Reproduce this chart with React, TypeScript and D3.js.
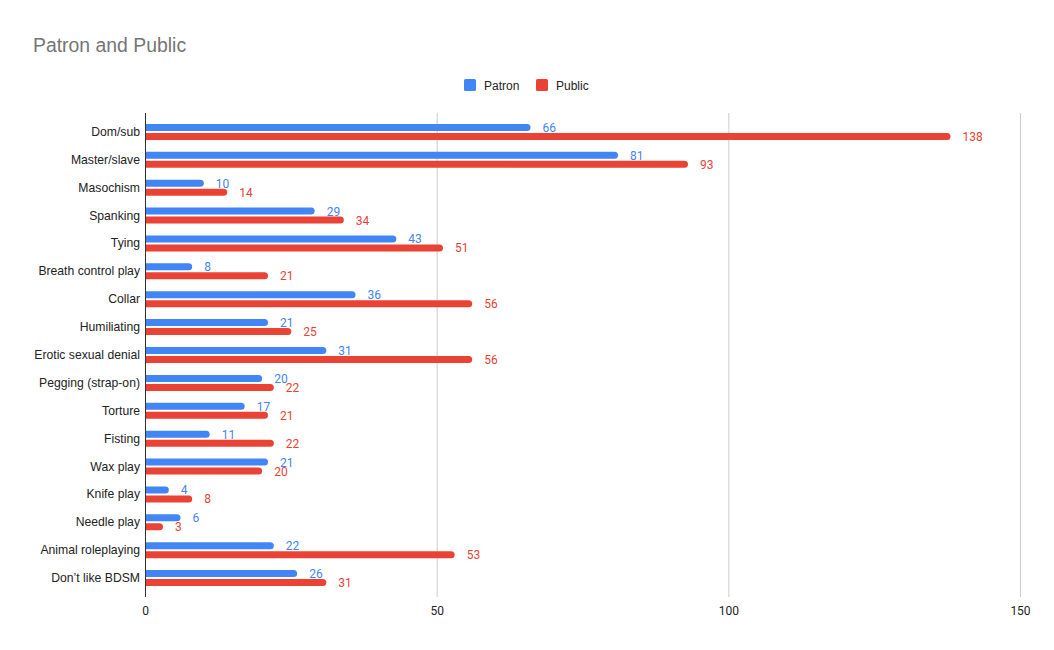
import * as d3 from "d3";

const categories = [
  "Dom/sub",
  "Master/slave",
  "Masochism",
  "Spanking",
  "Tying",
  "Breath control play",
  "Collar",
  "Humiliating",
  "Erotic sexual denial",
  "Pegging (strap-on)",
  "Torture",
  "Fisting",
  "Wax play",
  "Knife play",
  "Needle play",
  "Animal roleplaying",
  "Don\u2019t like BDSM",
];
const patron = [66, 81, 10, 29, 43, 8, 36, 21, 31, 20, 17, 11, 21, 4, 6, 22, 26];
const publicValues = [138, 93, 14, 34, 51, 21, 56, 25, 56, 22, 21, 22, 20, 8, 3, 53, 31];
const seriesNames = ["Patron", "Public"];
const xTicks = [0, 50, 100, 150];

const W = 1054;
const H = 650;
const colors = ["#4285f4", "#ea4335"];
const sansFont = "'Liberation Sans', Arial, sans-serif";
const labelFont = "Roboto, 'Liberation Sans', Arial, sans-serif";

// bar with rounded right end only
function barPath(x0: number, x1: number, y: number, h: number, r: number) {
  const rr = Math.min(r, (x1 - x0) / 2, h / 2);
  return `M${x0},${y}H${x1 - rr}Q${x1},${y} ${x1},${y + rr}V${y + h - rr}Q${x1},${y + h} ${x1 - rr},${y + h}H${x0}Z`;
}

export default function App() {
  const x = d3.scaleLinear().domain([0, 150]).range([145.5, 1020.5]);
  const y = d3.scaleBand<string>().domain(categories).range([118, 592]);
  const barH = 7;
  const gap = 2;
  const series = [patron, publicValues];
  const plotTop = 113;
  const plotBottom = 597;

  return (
    <svg
      width={W}
      height={H}
      style={{ position: "fixed", left: 0, top: 0, background: "#fff" }}
    >
      <rect width={W} height={H} fill="#fff" />
      <text x={33} y={52} fontFamily={sansFont} fontSize={19.4} fill="#757575">
        Patron and Public
      </text>

      {/* legend */}
      <g>
        {seriesNames.map((name, i) => {
          const lx = i === 0 ? 464 : 536;
          return (
            <g key={name}>
              <rect x={lx} y={79} width={12} height={12} rx={1.5} fill={colors[i]} />
              <text x={lx + 20} y={89.5} fontFamily={sansFont} fontSize={12} fill="#222">
                {name}
              </text>
            </g>
          );
        })}
      </g>

      {/* gridlines */}
      {xTicks.slice(1).map((t) => (
        <line
          key={t}
          x1={x(t)}
          x2={x(t)}
          y1={plotTop}
          y2={plotBottom}
          stroke="#cccccc"
          strokeWidth={1}
        />
      ))}

      {/* bars */}
      {categories.map((c, ci) => {
        const cy = (y(c) as number) + y.bandwidth() / 2;
        return (
          <g key={c}>
            {series.map((vals, si) => {
              const by = si === 0 ? cy - gap / 2 - barH : cy + gap / 2;
              const v = vals[ci];
              return (
                <g key={si}>
                  <path d={barPath(x(0), x(v), by, barH, 3.5)} fill={colors[si]} />
                  <text
                    x={x(v) + 12}
                    y={by + barH / 2 + 4.5}
                    fontFamily={labelFont}
                    fontSize={12}
                    fill={colors[si]}
                  >
                    {v}
                  </text>
                </g>
              );
            })}
            <text
              x={140}
              y={cy + 4}
              textAnchor="end"
              fontFamily={sansFont}
              fontSize={12.2}
              fill="#222"
            >
              {c}
            </text>
          </g>
        );
      })}

      {/* axis line */}
      <line x1={x(0)} x2={x(0)} y1={plotTop} y2={plotBottom} stroke="#333" strokeWidth={1} />

      {/* x tick labels */}
      {xTicks.map((t) => (
        <text
          key={t}
          x={x(t)}
          y={615}
          textAnchor="middle"
          fontFamily={labelFont}
          fontSize={12}
          fill="#222"
        >
          {t}
        </text>
      ))}
    </svg>
  );
}
